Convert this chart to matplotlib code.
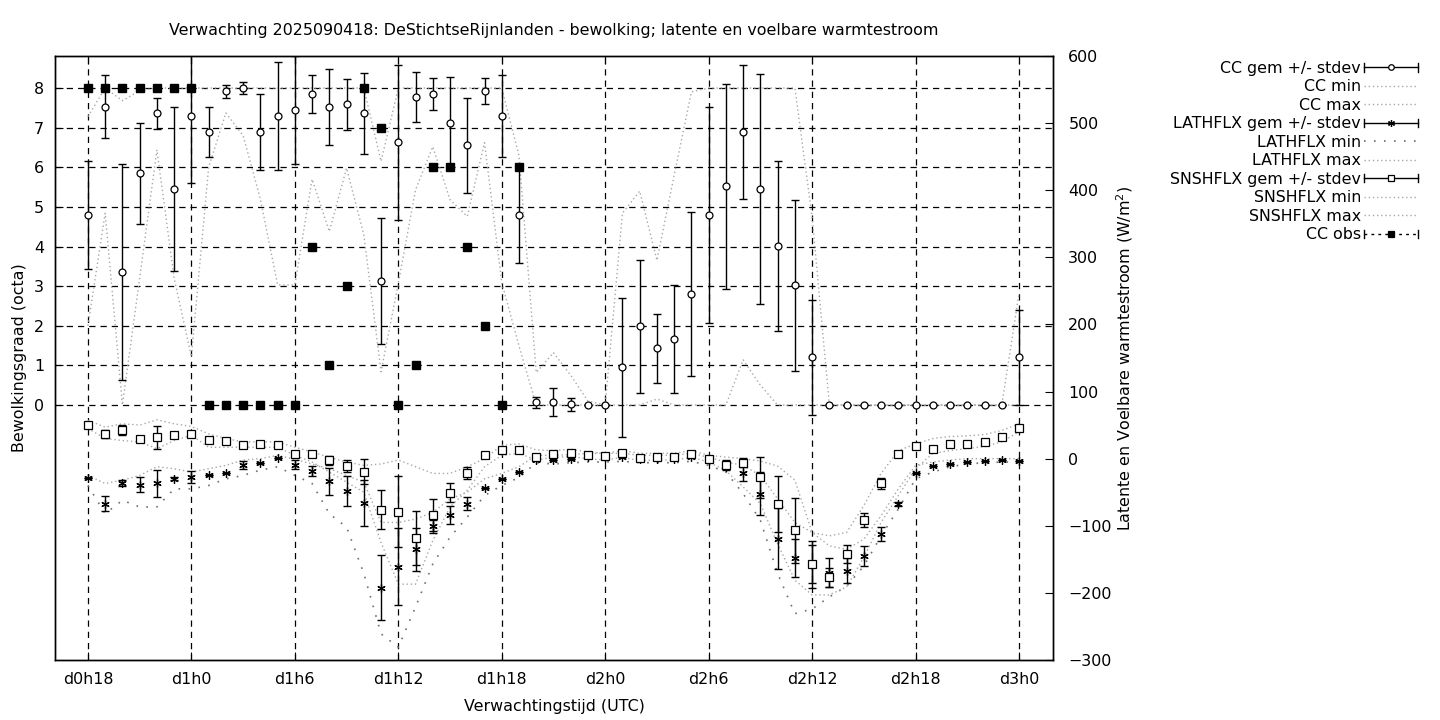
import numpy as np
import matplotlib
matplotlib.use("Agg")
import matplotlib.pyplot as plt
from matplotlib.lines import Line2D
from matplotlib.legend_handler import HandlerBase

plt.rcParams['font.family'] = ['DejaVu Sans']
plt.rcParams['font.size'] = 11.4

# forecast hours (d0h18 .. d3h0)
hours = np.arange(18, 73)
tick_hours = [18, 24, 30, 36, 42, 48, 54, 60, 66, 72]
tick_labels = ['d0h18', 'd1h0', 'd1h6', 'd1h12', 'd1h18', 'd2h0', 'd2h6', 'd2h12', 'd2h18', 'd3h0']

# bewolking (octa)
cc_gem = [4.79, 7.53, 3.35, 5.85, 7.36, 5.45, 7.30, 6.89, 7.92, 8.00,
          6.89, 7.30, 7.45, 7.85, 7.52, 7.59, 7.36, 3.13, 6.63, 7.77,
          7.85, 7.11, 6.56, 7.92, 7.29, 4.79, 0.07, 0.07, 0.02, 0.0,
          0.0, 0.95, 1.99, 1.43, 1.66, 2.79, 4.79, 5.52, 6.89, 5.45,
          4.01, 3.02, 1.20, 0, 0, 0, 0, 0, 0, 0,
          0, 0, 0, 0, 1.20]
cc_sd = [1.36, 0.79, 2.73, 1.27, 0.40, 2.08, 1.70, 0.64, 0.16, 0.16,
         0.95, 1.36, 1.37, 0.48, 0.96, 0.64, 1.03, 1.60, 1.95, 0.64,
         0.40, 1.16, 1.20, 0.33, 1.04, 1.20, 0.14, 0.35, 0.16, 0,
         0, 1.76, 1.68, 0.87, 1.36, 2.07, 2.73, 2.58, 1.70, 2.90,
         2.15, 2.15, 1.45, 0, 0, 0, 0, 0, 0, 0,
         0, 0, 0, 0, 1.19]
cc_min = [2.0, 4.84, 0.0, 3.2, 6.44, 3.2, 1.22, 6.0, 7.37, 6.8,
          5.2, 3.03, 3.03, 5.7, 4.38, 5.98, 4.3, 0.84, 3.07, 5.43,
          6.52, 5.18, 4.76, 6.62, 3.09, 1.49, 0, 0, 0, 0,
          0, 0, 0, 0.15, 0, 0, 0, 0, 1.14, 0.5,
          0, 0, 0, 0, 0, 0, 0, 0, 0, 0,
          0, 0, 0, 0, 0]
cc_max = [7.28, 8, 7.68, 7.93, 8, 8, 8, 8, 8, 8,
          8, 8, 8, 8, 8, 8, 8, 6.15, 8, 8,
          8, 8, 8, 8, 8, 6.29, 0.82, 1.32, 0.75, 0.1,
          0, 4.84, 5.4, 3.65, 5.8, 7.9, 8, 8, 8, 8,
          8, 8, 4.75, 0, 0, 0, 0, 0, 0, 0,
          0, 0, 0, 0, 2.82]
cc_obs = [8, 8, 8, 8, 8, 8, 8, 0, 0, 0,
          0, 0, 0, 4, 1, 3, 8, 7, 0, 1,
          6, 6, 4, 2, 0, 6] + [np.nan] * 29

# latente warmtestroom (W/m2)
lath_gem = [-29, -67, -36, -39, -37, -30, -28, -25, -21, -10,
            -6, 1.5, -9, -18, -34, -48, -66, -192, -161, -135,
            -101, -84, -67, -44, -31, -20, -1.5, -1.5, 0, 2,
            1, 3, 0, 0, 0, 3, -3, -13, -22, -52,
            -119, -148, -157, -170, -167, -145, -112, -67, -22, -11,
            -7.5, -4.5, -3, -2.5, -3]
lath_sd = [0, 10.7, 4, 11, 20, 2.5, 9, 0, 0, 6,
           0, 0, 7, 7.5, 20, 22, 34.5, 49, 57, 32,
           9.5, 13, 10, 0, 0, 0, 0, 0, 0, 0,
           0, 0, 0, 0, 0, 0, 0, 3, 11, 31.5,
           45, 28, 35, 21.6, 18.6, 14.4, 10, 3, 0, 0,
           0, 0, 0, 0, 0]
lath_min = [-40, -82, -62, -72, -72, -45, -45, -40, -30, -25,
            -17, -12, -25, -37, -82, -102, -171, -261, -281, -221,
            -157, -117, -87, -55, -40, -28, -6, -8, -6, -5,
            -5, -4, -6, -6, -6, -4, -10, -20, -52, -92,
            -171, -231, -224, -206, -190, -160, -115, -75, -30, -20,
            -12, -8, -6, -5, -5]
lath_max = [-25, -37, -32, -25, -12, -15, -20, -15, -10, -2,
            0, 5, -1, -8, -15, -25, -35, -95, -95, -90,
            -80, -60, -50, -30, -22, -12, 5, 5, 6, 8,
            8, 8, 5, 5, 5, 8, 2, -5, -10, -25,
            -60, -95, -110, -130, -135, -120, -85, -45, -10, -5,
            -2, 0, 0, 0, 0]

# voelbare warmtestroom (W/m2)
snsh_gem = [50, 37, 43, 30, 32, 35, 37, 28, 27, 21,
            22, 21, 7.4, 6.4, -2.5, -10.5, -19.4, -76, -79, -118,
            -84, -51, -22, 5, 13.4, 13.4, 2.5, 7.5, 9, 5.5,
            3.5, 8.5, 1.5, 2.5, 2.5, 7.5, 0, -9, -6, -28,
            -68, -107, -157, -177, -142, -92, -37, 7.5, 18.4, 14,
            21.4, 22.4, 24.4, 31.8, 45.3]
snsh_sd = [0, 5.7, 7, 3, 17, 3, 2, 2, 0, 0,
           0, 0, 0, 0, 6.5, 9, 19, 29, 53, 40,
           24, 14, 9, 0, 0, 0, 0, 0, 0, 0,
           0, 0, 0, 0, 0, 0, 0, 7.5, 7, 30,
           42, 48, 28, 14, 13.4, 10.4, 8, 0, 0, 0,
           0, 0, 0, 0, 0]
snsh_min = [45, 30, 27, 25, 15, 27, 35, 17, 17, 17,
            17, 17, 5, -5, -20, -35, -50, -125, -187, -187,
            -122, -72, -47, -12, 5, 8, -2, 2, 3, 0,
            -2, 2, -3, -2, -2, 2, -5, -18, -42, -67,
            -127, -181, -203, -203, -191, -147, -95, -55, -15, 8,
            12, 15, 18, 25, 40]
snsh_max = [57, 47, 52, 50, 58, 52, 48, 37, 30, 25,
            25, 25, 17, 10, 2, -5, -10, -8, -2, -12,
            -22, -22, -12, 0, 20, 22, 13, 12, 14, 10,
            8, 12, 8, 8, 8, 12, 5, 2.4, 0, -3.5,
            -11, -32, -110, -115, -110, -70, -22, 12, 22, 30,
            33, 34, 36, 42, 52]

W, H = 1440, 720
fig = plt.figure(figsize=(W / 100, H / 100), dpi=100)
ax = fig.add_axes([55 / W, 60 / H, 998 / W, 604 / H])
ax2 = ax.twinx()

grey = '#a8a8a8'
star = (6, 2, 0)
dash = (0, (5, 4))

# bewolking op de linker as
ax.plot(hours, cc_min, color=grey, lw=1, ls=(0, (1, 2)), zorder=2)
ax.plot(hours, cc_max, color=grey, lw=1, ls=(0, (1, 2)), zorder=2)
ax.errorbar(hours, cc_gem, yerr=cc_sd, fmt='none', ecolor='black',
            elinewidth=1, capsize=3, capthick=1, zorder=3)
ax.plot(hours, cc_gem, ls='none', marker='o', ms=5, mfc='white',
        mec='black', mew=0.9, zorder=4)
ax.plot(hours, cc_obs, ls='none', marker='s', ms=6, color='black', zorder=5)

# warmtestromen op de rechter as
ax2.plot(hours, lath_min, color='#707070', lw=1.2, ls=(0, (1, 5)))
ax2.plot(hours, lath_max, color=grey, lw=1, ls=(0, (1, 2)))
ax2.plot(hours, snsh_min, color=grey, lw=1, ls=(0, (1, 2)))
ax2.plot(hours, snsh_max, color=grey, lw=1, ls=(0, (1, 2)))
ax2.errorbar(hours, lath_gem, yerr=lath_sd, fmt='none', ecolor='black',
             elinewidth=1, capsize=3, capthick=1)
ax2.plot(hours, lath_gem, ls='none', marker=star, ms=6, color='black', mew=0.9)
ax2.errorbar(hours, snsh_gem, yerr=snsh_sd, fmt='none', ecolor='black',
             elinewidth=1, capsize=3, capthick=1)
ax2.plot(hours, snsh_gem, ls='none', marker='s', ms=5.5, mfc='white',
         mec='black', mew=0.9)

ax.set_xlim(16.09, 73.97)
ax.set_ylim(-6.435, 8.808)
ax2.set_ylim(-300, 600)
ax.set_xticks(tick_hours)
ax.set_xticklabels(tick_labels)
ax.set_yticks(range(0, 9))
ax2.set_yticks(range(-300, 601, 100))

ax.grid(True, color='black', lw=0.9, ls=dash)
ax.tick_params(direction='in', length=6, top=True, right=False, pad=8)
ax.tick_params(axis='x', pad=9)
ax2.tick_params(direction='in', length=6, pad=11)
for a in (ax, ax2):
    for s in a.spines.values():
        s.set_linewidth(1)
        s.set_color('black')

ax.set_xlabel('Verwachtingstijd (UTC)', labelpad=8)
ax.set_ylabel('Bewolkingsgraad (octa)', labelpad=5)
ax2.set_ylabel('Latente en Voelbare warmtestroom (W/m$^2$)', labelpad=2)
ax.set_title('Verwachting 2025090418: DeStichtseRijnlanden - bewolking; '
             'latente en voelbare warmtestroom', fontsize=11.4, pad=15)


class ErrHandler(HandlerBase):
    def __init__(self, marker, mfc, ms, ls='-', lw=1):
        super().__init__()
        self.marker, self.mfc, self.ms, self.ls, self.lw = marker, mfc, ms, ls, lw

    def create_artists(self, legend, orig_handle, xdescent, ydescent,
                       width, height, fontsize, trans):
        y = height / 2 - ydescent
        x0, x1 = -xdescent, width - xdescent
        line = Line2D([x0, x1], [y, y], color='black', lw=self.lw, ls=self.ls)
        caps = Line2D([x0, x0, np.nan, x1, x1], [y - 3, y + 3, np.nan, y - 3, y + 3],
                      color='black', lw=1)
        mk = Line2D([(x0 + x1) / 2], [y], ls='none', marker=self.marker,
                    ms=self.ms, mfc=self.mfc, mec='black', mew=0.9)
        for a in (line, caps, mk):
            a.set_transform(trans)
        return [line, caps, mk]


h_cc = Line2D([], [])
h_lat = Line2D([], [])
h_sns = Line2D([], [])
h_obs = Line2D([], [])
dot = dict(color=grey, lw=1, ls=(0, (1, 2)))
handles = [h_cc, Line2D([], [], **dot), Line2D([], [], **dot),
           h_lat, Line2D([], [], color='#707070', lw=1.2, ls=(0, (1, 5))),
           Line2D([], [], **dot),
           h_sns, Line2D([], [], **dot), Line2D([], [], **dot), h_obs]
labels = ['CC gem +/- stdev', 'CC min', 'CC max',
          'LATHFLX gem +/- stdev', 'LATHFLX min', 'LATHFLX max',
          'SNSHFLX gem +/- stdev', 'SNSHFLX min', 'SNSHFLX max', 'CC obs']
hmap = {h_cc: ErrHandler('o', 'white', 4),
        h_lat: ErrHandler(star, 'black', 5),
        h_sns: ErrHandler('s', 'white', 4.5),
        h_obs: ErrHandler('s', 'black', 5, ls=(0, (2, 3)))}
fig.legend(handles, labels, handler_map=hmap, loc='upper right',
           bbox_to_anchor=(1426 / W, 1 - 53 / H), frameon=False,
           markerfirst=False, handlelength=3.4, handletextpad=0.2,
           labelspacing=0.22, borderpad=0, fontsize=11.4)

fig.savefig('out.png', dpi=100)
